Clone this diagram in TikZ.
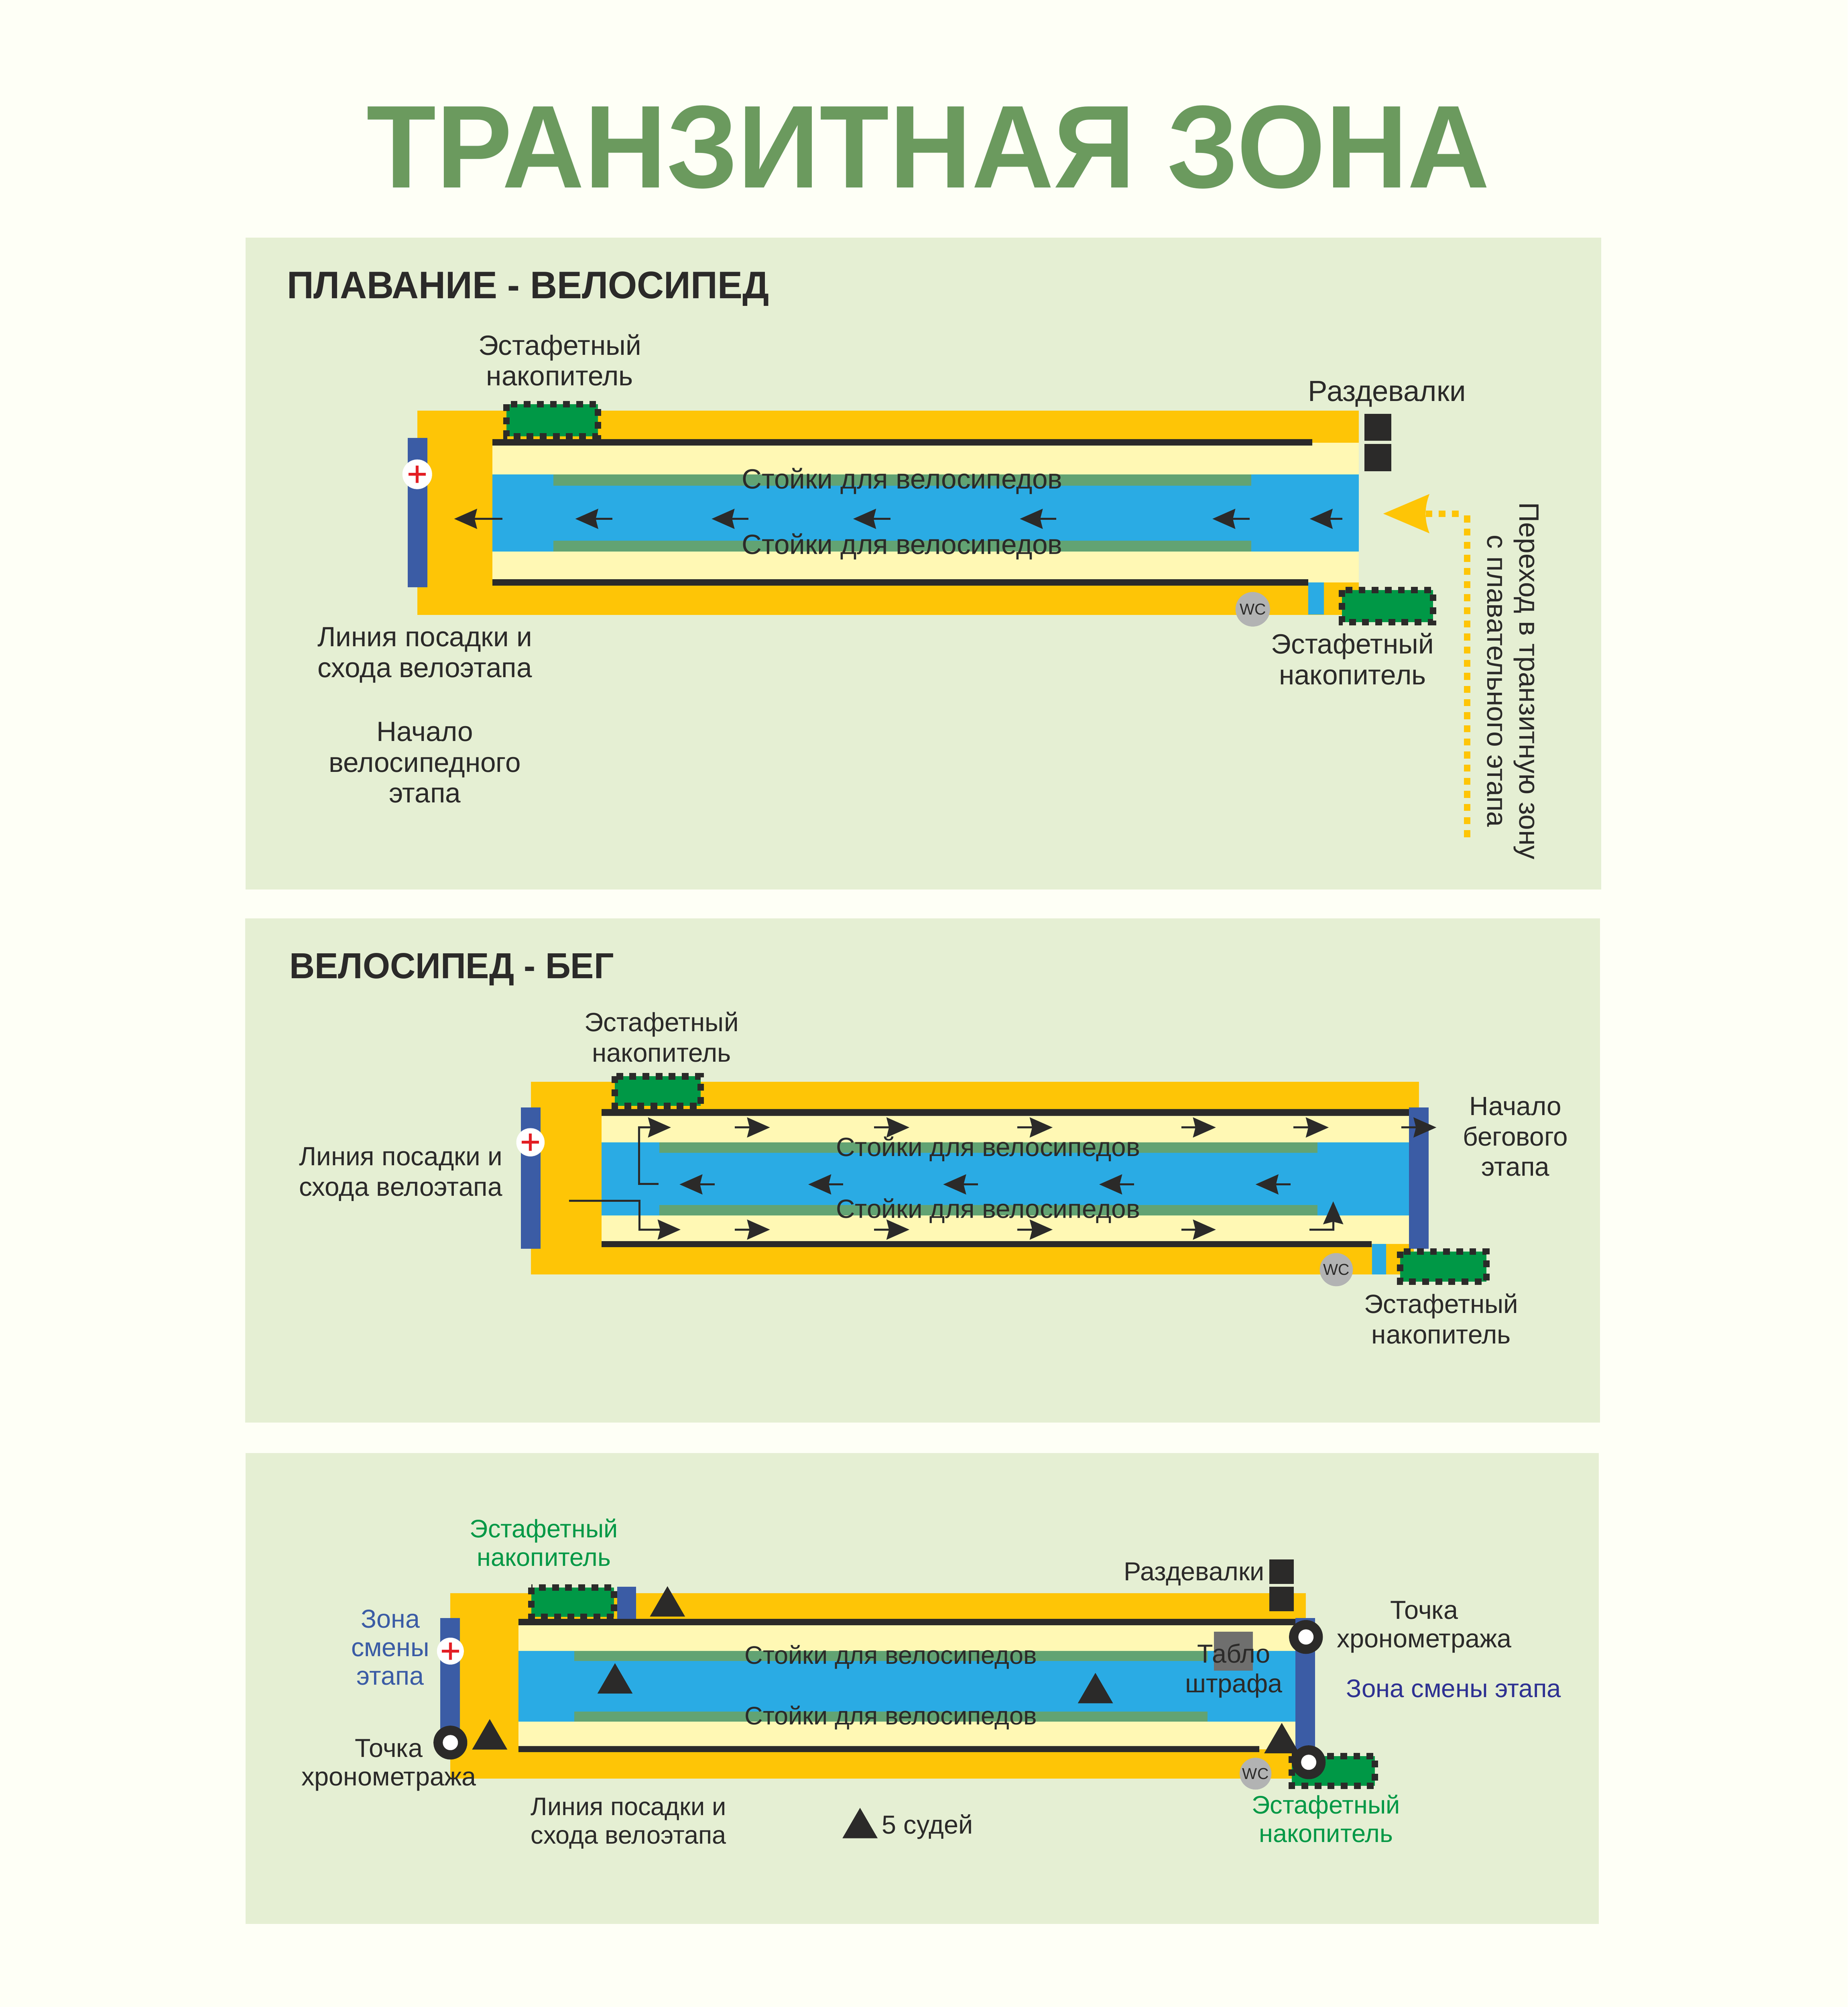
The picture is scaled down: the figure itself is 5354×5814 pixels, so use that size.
\documentclass[tikz,border=0pt]{standalone}
\usepackage{fontspec}
\setmainfont{Liberation Sans}
\usetikzlibrary{arrows.meta}
\definecolor{pagebg}{HTML}{FEFFF6}
\definecolor{panelbg}{HTML}{E5EFD3}
\definecolor{titlegreen}{HTML}{6B9A5E}
\definecolor{ink}{HTML}{2B2A29}
\definecolor{orangezone}{HTML}{FEC506}
\definecolor{paleyellow}{HTML}{FFF8B4}
\definecolor{waterblue}{HTML}{2AABE4}
\definecolor{rackgreen}{HTML}{62A373}
\definecolor{barblue}{HTML}{3B5CA5}
\definecolor{relaygreen}{HTML}{009846}
\definecolor{wcgrey}{HTML}{B2B3B3}
\definecolor{crossred}{HTML}{E31E24}
\definecolor{zonepurple}{HTML}{2E3192}
\definecolor{boardgrey}{HTML}{6F6F6E}
\tikzset{
	labela/.style={inner sep=0pt, align=center, text=ink, font=\fontsize{22.9}{25.3}\selectfont},
	labelb/.style={labela, font=\fontsize{21.7}{25}\selectfont},
	labelc/.style={labela, font=\fontsize{20.85}{23.5}\selectfont},
	labeld/.style={labela, font=\fontsize{21.4}{23.5}\selectfont},
	heading/.style={inner sep=0pt, anchor=base west, text=ink},
	flow/.style={draw=ink, line width=1.6pt, -{Stealth[length=18.8pt,width=16.4pt,inset=2pt]}},
	judge/.style={fill=ink}
}
\def\relaybox(#1,#2)(#3,#4){
	\fill[relaygreen] (#1,#2) rectangle (#3,#4);
	\draw[ink, line width=5.3pt, dash pattern=on 5.6pt off 5.2pt] (#1,#2) rectangle (#3,#4);
}
\def\plusmark(#1,#2)[#3]{
	\fill[white] (#1,#2) circle (#3cm);
	\fill[crossred] (#1-25,#2-4) rectangle (#1+25,#2+4);
	\fill[crossred] (#1-4,#2-25) rectangle (#1+4,#2+25);
}
\def\timering(#1,#2){
	\fill[ink] (#1,#2) circle (0.49cm);
	\fill[white] (#1,#2) circle (0.22cm);
}
\def\judgemark(#1,#2){
	\fill[judge] (#1,#2) -- ++(-51,88) -- ++(102,0) -- cycle;
}
\def\wcmark(#1,#2)[#3]{
	\node[circle, fill=wcgrey, minimum size=#3, inner sep=0pt, text=ink, font=\fontsize{13}{13}\selectfont] at (#1,#2) {WC};
}
\begin{document}
\begin{tikzpicture}[x=0.01cm, y=-0.01cm]
	\useasboundingbox (0,0) rectangle (5354,5814);
	\fill[pagebg] (0,0) rectangle (5354,5814);

	\node[inner sep=0pt, text=titlegreen, font=\bfseries\fontsize{97}{100}\selectfont] (title) at (2690,426) {\scalebox{0.967}[1]{ТРАНЗИТНАЯ ЗОНА}};

	% swim to bike
	\fill[panelbg] (712,688) rectangle (4639,2577);
	\node[heading, font=\bfseries\fontsize{31.6}{34}\selectfont] (swimhead) at (831,865) {\scalebox{0.971}[1]{ПЛАВАНИЕ - ВЕЛОСИПЕД}};

	\fill[orangezone] (1209,1189) rectangle (3937,1781);
	\fill[paleyellow] (1427,1282) rectangle (3937,1687);
	\fill[waterblue] (1427,1374) rectangle (3937,1598);
	\fill[rackgreen] (1604,1374) rectangle (3626,1407);
	\fill[rackgreen] (1604,1566) rectangle (3626,1598);
	\fill[ink] (1427,1272) rectangle (3802,1291);
	\fill[ink] (1427,1678) rectangle (3791,1697);
	\fill[waterblue] (3791,1687) rectangle (3836,1780);
	\fill[barblue] (1181,1269) rectangle (1238,1701);
	\plusmark(1209,1374)[0.43]
	\relaybox(1467,1171)(1732,1264)
	\relaybox(3888,1709)(4152,1802)
	\fill[ink] (3953,1199) rectangle (4031,1277);
	\fill[ink] (3953,1286) rectangle (4031,1365);
	\wcmark(3630,1765)[1cm]
	\foreach \tail/\tip in {1456/1316,1774/1667,2169/2062,2580/2472,3061/2955,3621/3513,3890/3795}
		\draw[flow] (\tail,1503) -- (\tip,1503);
	\draw[orangezone, line width=5.4pt, dash pattern=on 5.7pt off 5.1pt] (4251,2425) -- (4251,1478);
	\draw[orangezone, line width=5.4pt, dash pattern=on 5.5pt off 5.3pt] (4131,1488) -- (4228,1488);
	\fill[orangezone] (4008,1488) -- (4142,1431) .. controls (4127,1470) and (4127,1506) .. (4142,1545) -- cycle;

	\node[labela] (relayup) at (1622,1043) {Эстафетный\\накопитель};
	\node[labela, font=\fontsize{24}{26}\selectfont] (lockers) at (4019,1141) {Раздевалки};
	\node[labela] (rackup) at (2614,1394) {Стойки для велосипедов};
	\node[labela] (rackdown) at (2614,1583) {Стойки для велосипедов};
	\node[labela] (relaydown) at (3919,1909) {Эстафетный\\накопитель};
	\node[labela] (mount) at (1231,1898) {Линия посадки и\\схода велоэтапа};
	\node[labela] (bikestart) at (1231,2209) {Начало\\велосипедного\\этапа};
	\node[labela, rotate=-90, font=\fontsize{23}{26.5}\selectfont] (passage) at (4384,1973) {Переход в транзитную зону\\с плавательного этапа};

	% bike to run
	\fill[panelbg] (711,2661) rectangle (4636,4121);
	\node[heading, font=\bfseries\fontsize{29.8}{34}\selectfont] (runhead) at (838,2834) {\scalebox{0.97}[1]{ВЕЛОСИПЕД - БЕГ}};

	\fill[orangezone] (1538,3134) rectangle (4097,3692);
	\fill[orangezone] (4097,3134) rectangle (4112,3240);
	\fill[paleyellow] (1743,3232) rectangle (4083,3604);
	\fill[waterblue] (1743,3309) rectangle (4083,3521);
	\fill[rackgreen] (1911,3309) rectangle (3817,3339);
	\fill[rackgreen] (1911,3491) rectangle (3817,3521);
	\fill[ink] (1743,3213) rectangle (4083,3232);
	\fill[ink] (1743,3595) rectangle (3974,3613);
	\fill[waterblue] (3975,3604) rectangle (4016,3692);
	\fill[barblue] (1509,3208) rectangle (1566,3617);
	\fill[barblue] (4083,3208) rectangle (4140,3617);
	\plusmark(1537,3309)[0.41]
	\relaybox(1781,3118)(2030,3204)
	\relaybox(4057,3625)(4307,3713)
	\wcmark(3872,3678)[0.96cm]
	\draw[flow] (1908,3430) -- (1852,3430) -- (1852,3266) -- (1944,3266);
	\foreach \tail/\tip in {2129/2231,2532/2635,2948/3050,3423/3523,3748/3850,4060/4162}
		\draw[flow] (\tail,3266) -- (\tip,3266);
	\foreach \tail/\tip in {2071/1969,2443/2342,2834/2733,3286/3185,3740/3638}
		\draw[flow] (\tail,3431) -- (\tip,3431);
	\draw[flow] (1649,3478) -- (1853,3478) -- (1853,3562) -- (1972,3562);
	\foreach \tail/\tip in {2129/2231,2532/2635,2948/3050,3423/3523}
		\draw[flow] (\tail,3562) -- (\tip,3562);
	\draw[flow] (3794,3562) -- (3863,3562) -- (3863,3480);

	\node[labelb] (relaytop) at (1917,3004) {Эстафетный\\накопитель};
	\node[labelb] (mountb) at (1161,3402) {Линия посадки и\\схода велоэтапа};
	\node[labelb] (runstart) at (4391,3293) {Начало\\бегового\\этапа};
	\node[labelb] (racktop) at (2863,3329) {Стойки для велосипедов};
	\node[labelb] (rackbot) at (2863,3508) {Стойки для велосипедов};
	\node[labelb] (relaybot) at (4176,3820) {Эстафетный\\накопитель};

	% third panel
	\fill[panelbg] (712,4209) rectangle (4633,5573);

	\fill[orangezone] (1305,4615) rectangle (3743,5152);
	\fill[orangezone] (3743,4615) rectangle (3784,4700);
	\fill[paleyellow] (1502,4708) rectangle (3754,5067);
	\fill[waterblue] (1502,4783) rectangle (3754,4987);
	\fill[rackgreen] (1664,4783) rectangle (3499,4812);
	\fill[rackgreen] (1664,4958) rectangle (3499,4987);
	\fill[ink] (1502,4690) rectangle (3782,4708);
	\fill[ink] (1502,5058) rectangle (3649,5076);
	\fill[barblue] (1276,4687) rectangle (1333,5040);
	\fill[barblue] (3754,4687) rectangle (3811,5081);
	\fill[barblue] (1788,4596) rectangle (1843,4690);
	\plusmark(1305,4783)[0.39]
	\relaybox(1539,4599)(1779,4684)
	\relaybox(3743,5087)(3984,5173)
	\fill[ink] (3678,4517) rectangle (3749,4588);
	\fill[ink] (3678,4596) rectangle (3749,4668);
	\fill[boardgrey] (3517,4727) rectangle (3630,4839);
	\wcmark(3638,5138)[0.92cm]
	\judgemark(1934,4595)
	\judgemark(1782,4818)
	\judgemark(1419,4980)
	\judgemark(3174,4846)
	\judgemark(3714,4991)
	\judgemark(2492,5237)
	\timering(1305,5048)
	\timering(3784,4742)
	\timering(3792,5105)

	\node[labelc, text=relaygreen] (relayleft) at (1576,4468) {Эстафетный\\накопитель};
	\node[labeld, text=barblue] (zoneleft) at (1131,4772) {Зона\\смены\\этапа};
	\node[labeld] (clockleft) at (1127,5113) {Точка\\хронометража};
	\node[labeld] (lockersb) at (3460,4560) {Раздевалки};
	\node[labeld] (clockright) at (4127,4713) {Точка\\хронометража};
	\node[labeld, text=zonepurple, font=\fontsize{21}{23.5}\selectfont] (zoneright) at (4212,4891) {Зона смены этапа};
	\node[labeld, font=\fontsize{21.4}{24.5}\selectfont] (board) at (3575,4840) {Табло\\штрафа};
	\node[labelc] (rackc) at (2581,4801) {Стойки для велосипедов};
	\node[labelc] (rackd) at (2581,4976) {Стойки для велосипедов};
	\node[labelc] (mountc) at (1821,5282) {Линия посадки и\\схода велоэтапа};
	\node[labeld, anchor=west] (judges) at (2555,5292) {5 судей};
	\node[labelc, text=relaygreen] (relayright) at (3842,5269) {Эстафетный\\накопитель};
\end{tikzpicture}
\end{document}
